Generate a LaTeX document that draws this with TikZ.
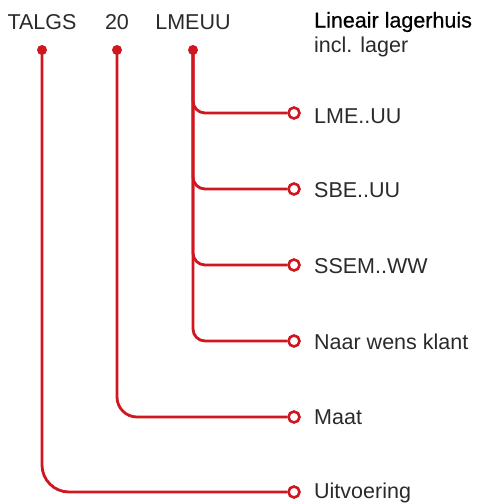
\documentclass[tikz,border=0pt]{standalone}
\usepackage{fontspec}
\setmainfont{Liberation Sans}
\newfontface\headfont[FakeBold=0.6]{Liberation Sans}
\usetikzlibrary{positioning}
\definecolor{clrLine}{HTML}{D0161E}
\definecolor{clrText}{HTML}{2A2A2A}

\begin{document}
\begin{tikzpicture}[
    x=1pt, y=-1pt,
    code/.style={font=\fontsize{21.5}{25}\selectfont, text=clrText, inner sep=0pt},
    pin/.style={circle, fill=clrLine, inner sep=0pt, minimum size=10pt},
    endpt/.style={circle, draw=clrLine, fill=white, line width=2.6pt, inner sep=0pt, minimum size=11pt},
    lbl/.style={font=\fontsize{21.5}{25}\selectfont, text=clrText, anchor=west, inner sep=0pt},
    wire/.style={draw=clrLine, line width=2.8pt},
]
\useasboundingbox (0,0) rectangle (478,504);

% code parts
\node[code] (talgs) at (42,22) {TALGS};
\node[code] (size) at (117,22) {20};
\node[code] (lmeuu) at (193,22) {LMEUU};
\node[pin] (pTalgs) at (42,50) {};
\node[pin] (pSize) at (117,50) {};
\node[pin] (pLmeuu) at (193,50) {};

% header
\node[lbl, font=\fontsize{21.5}{25}\headfont, text=black] (head) at (314,22) {Lineair lagerhuis};
\node[lbl] (head2) at (314,47) {incl. lager};

% end points
\node[endpt] (e1) at (294,113) {};
\node[endpt] (e2) at (294,189) {};
\node[endpt] (e3) at (294,265) {};
\node[endpt] (e4) at (294,341) {};
\node[endpt] (e5) at (294,417) {};
\node[endpt] (e6) at (294,492) {};

\node[lbl] (l1) at (314,116) {LME..UU};
\node[lbl] (l2) at (314,190) {SBE..UU};
\node[lbl] (l3) at (314,266) {SSEM..WW};
\node[lbl] (l4) at (314,342) {Naar wens klant};
\node[lbl] (l5) at (314,417) {Maat};
\node[lbl] (l6) at (314,493) {Uitvoering};

% connectors
\foreach \e in {e1,e2,e3,e4}
  \draw[wire, rounded corners=12pt] (pLmeuu.center) |- (\e);
\draw[wire, rounded corners=20pt] (pSize.center) |- (e5);
\draw[wire, rounded corners=27pt] (pTalgs.center) |- (e6);

\end{tikzpicture}
\end{document}
